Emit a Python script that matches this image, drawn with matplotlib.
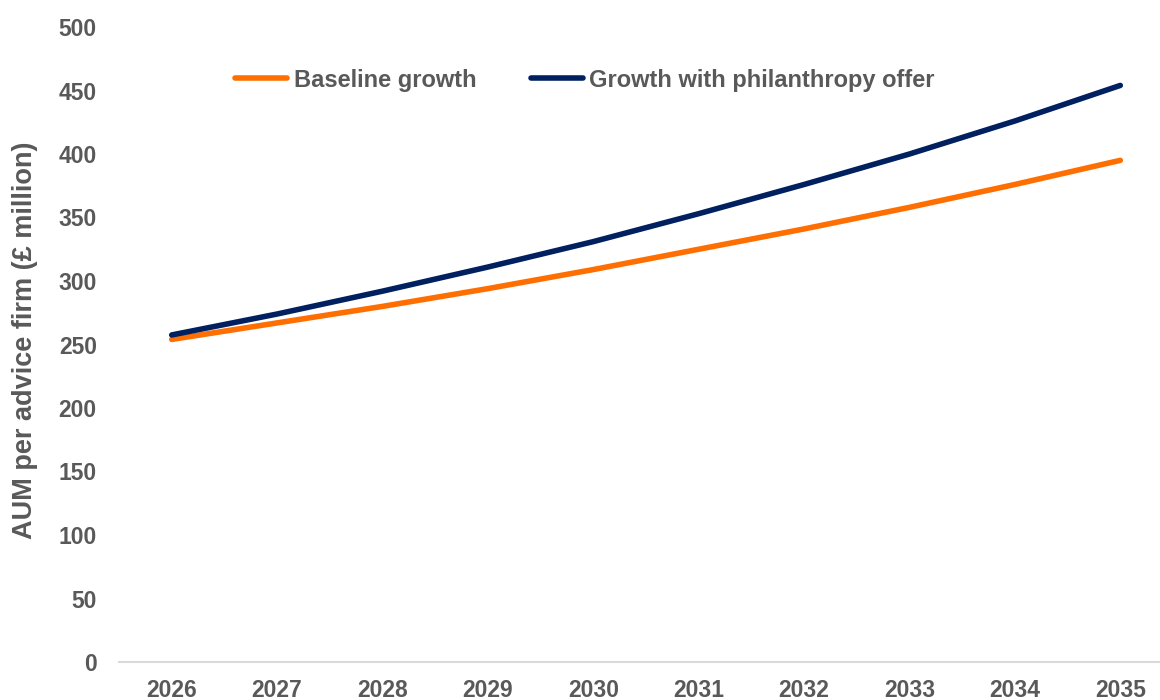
import matplotlib
matplotlib.use("Agg")
import matplotlib.pyplot as plt

years = [2026, 2027, 2028, 2029, 2030, 2031, 2032, 2033, 2034, 2035]
baseline = [254, 267, 280, 294, 309, 325, 341, 358, 376, 395]
philanthropy = [257.5, 274, 292, 311, 331, 353, 376, 400, 426, 454]
yticks = [0, 50, 100, 150, 200, 250, 300, 350, 400, 450, 500]

plt.rcParams['font.family'] = ['Liberation Sans', 'DejaVu Sans']
grey = '#595959'

fig = plt.figure(figsize=(11.6, 7), dpi=100)
W, H = 1160, 700
left, right, top, bottom = 119, 1160, 27, 662
ax = fig.add_axes([left / W, 1 - bottom / H, (right - left) / W, (bottom - top) / H])

ax.plot(years, baseline, color='#FF6E00', lw=4, solid_capstyle='round', label='Baseline growth')
ax.plot(years, philanthropy, color='#002060', lw=4, solid_capstyle='round', label='Growth with philanthropy offer')

ax.set_ylim(0, 500)
ax.set_yticks(yticks)
ax.set_xticks(years)
ax.set_xlim(2025.5, 2025.5 + (right - left) / 105.4)

for s in ['top', 'right', 'left']:
    ax.spines[s].set_visible(False)
ax.spines['bottom'].set_color('#D9D9D9')
ax.spines['bottom'].set_linewidth(1.5)
ax.tick_params(axis='both', length=0, labelsize=16.5, labelcolor=grey)
ax.tick_params(axis='y', pad=16)
ax.tick_params(axis='x', pad=12.5)
for lab in ax.get_xticklabels() + ax.get_yticklabels():
    lab.set_fontweight('bold')

fig.text(25 / W, 1 - 340 / H, 'AUM per advice firm (£ million)', rotation=90,
         ha='center', va='center', fontsize=19.5, fontweight='bold', color=grey)

leg = ax.legend(loc='center', bbox_to_anchor=(585 / W, 1 - 80 / H), bbox_transform=fig.transFigure,
                ncol=2, frameon=False, handlelength=2.2, handletextpad=0.28, columnspacing=2.3,
                borderpad=0, borderaxespad=0, prop={'size': 17, 'weight': 'bold'})
for t in leg.get_texts():
    t.set_color(grey)

fig.savefig('out.png', dpi=100)
